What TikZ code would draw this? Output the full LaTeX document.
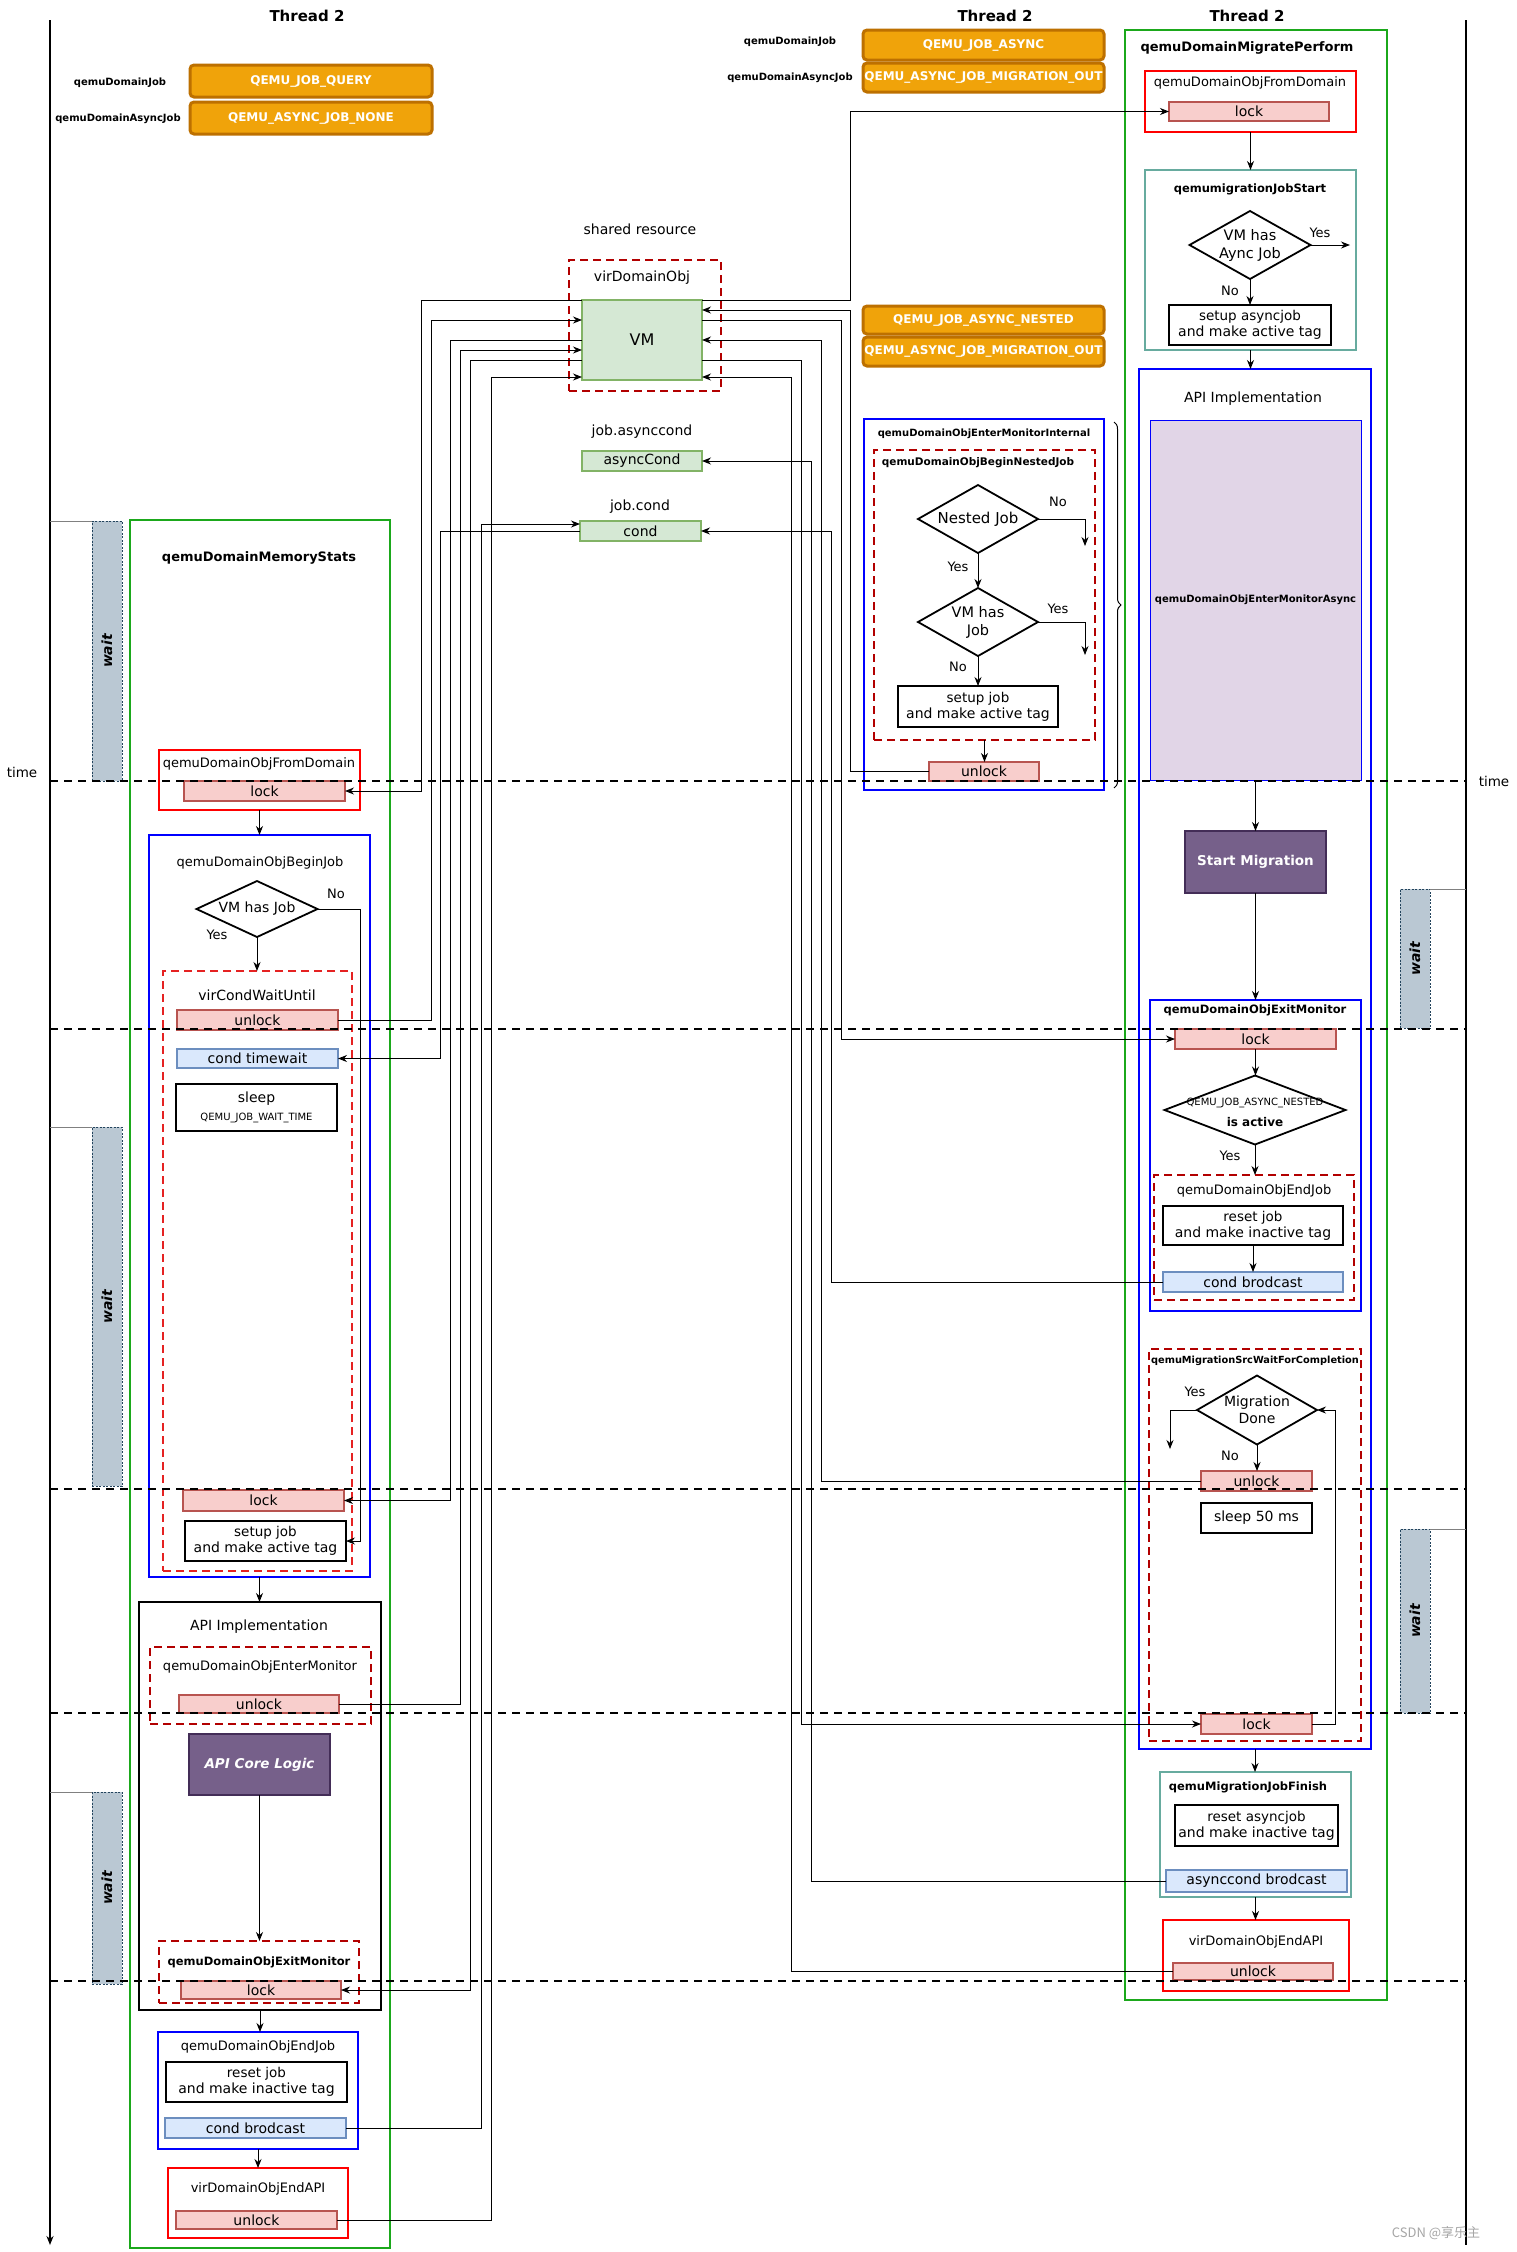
\documentclass[tikz,border=0pt]{standalone}
\usepackage{fontspec}
\setmainfont{DejaVu Sans}
\newfontfamily\cjkfont{Noto Sans CJK SC}
\usetikzlibrary{arrows.meta,shapes.geometric,decorations.pathreplacing}
\definecolor{cgreen}{HTML}{1BA81B}
\definecolor{cred}{HTML}{FF0000}
\definecolor{cblue}{HTML}{0000FF}
\definecolor{cdred}{HTML}{B20000}
\definecolor{cbred}{HTML}{E52222}
\definecolor{cteal}{HTML}{67AB9F}
\definecolor{lockf}{HTML}{F8CECC}
\definecolor{lockd}{HTML}{B85450}
\definecolor{condf}{HTML}{DAE8FC}
\definecolor{condd}{HTML}{6C8EBF}
\definecolor{vmf}{HTML}{D5E8D4}
\definecolor{vmd}{HTML}{82B366}
\definecolor{purf}{HTML}{76608A}
\definecolor{purd}{HTML}{432D57}
\definecolor{lavf}{HTML}{E1D5E7}
\definecolor{waitf}{HTML}{BAC8D3}
\definecolor{waitd}{HTML}{23445D}
\definecolor{orf}{HTML}{F0A30A}
\definecolor{ord}{HTML}{BD7000}
\newcommand{\fs}[2]{\fontsize{#1}{#2}\selectfont}
\newcommand{\BX}[7]{\node[#1, minimum width={(#5)-(#3)}, minimum height={(#6)-(#4)}] (#2) at ({((#3)+(#5))/2},{((#4)+(#6))/2}) {#7};}
\begin{document}
\begin{tikzpicture}[
  x=1pt, y=-1pt,
  >={Stealth[length=9pt,width=7pt]},
  every node/.style={inner sep=0pt, outer sep=0pt, align=center, font=\fs{14}{16}},
  box/.style={draw, line width=2pt, rectangle},
  greenbox/.style={box, draw=cgreen},
  redbox/.style={box, draw=cred},
  bluebox/.style={box, draw=cblue},
  reddash/.style={box, draw=cdred, dash pattern=on 8pt off 5pt},
  breddash/.style={box, draw=cbred, dash pattern=on 8pt off 5pt},
  tealbox/.style={box, draw=cteal},
  blkbox/.style={box, draw=black},
  lockbox/.style={draw=lockd, fill=lockf, line width=1.5pt},
  condbox/.style={draw=condd, fill=condf, line width=1.5pt},
  vmbox/.style={draw=vmd, fill=vmf, line width=1.5pt},
  purbox/.style={draw=purd, fill=purf, line width=1.5pt, text=white, font=\bfseries\fs{13.5}{16}},
  lavbox/.style={draw=cblue, fill=lavf, line width=0.8pt},
  orbox/.style={draw=ord, fill=orf, line width=3pt, rounded corners=4pt, text=white, font=\bfseries\fs{12}{14}},
  waitbox/.style={draw=waitd, fill=waitf, line width=0.8pt, dash pattern=on 2pt off 1.5pt},
  diam/.style={draw, diamond, line width=1.8pt},
  ttl/.style={font=\fs{13}{15}},
  btl/.style={font=\bfseries\fs{11.5}{13}},
  yn/.style={font=\fs{13}{15}},
  conn/.style={line width=1pt},
  arr/.style={conn, ->},
  rarr/.style={conn, <-},
  tline/.style={draw=black, line width=2pt, dash pattern=on 8pt off 6pt},
  wline/.style={draw=gray, line width=1pt},
  hdr/.style={font=\bfseries\fs{15}{17}},
  jlab/.style={font=\bfseries\fs{10}{12}}
]
\fill[white] (0,0) rectangle (1516,2252);
\useasboundingbox (0,0) rectangle (1516,2252);

% ---------- axes and time ----------
\coordinate (axLt) at (50,20);
\coordinate (axLb) at (50,2245);
\coordinate (axRt) at (1466,20);
\coordinate (axRb) at (1466,2245);
\draw[line width=1.5pt,->] (axLt) -- (axLb);
\draw[line width=1.5pt] (axRt) -- (axRb);
\node[font=\fs{13.5}{15}] (timeL) at (22,772) {time};
\node[font=\fs{13.5}{15}] (timeR) at (1494,781) {time};

% wait boxes
\BX{waitbox}{w1}{92}{521}{122}{781}{\rotatebox{90}{\bfseries\itshape wait}}
\BX{waitbox}{w2}{92}{1127}{122}{1486}{\rotatebox{90}{\bfseries\itshape wait}}
\BX{waitbox}{w3}{92}{1792}{122}{1984}{\rotatebox{90}{\bfseries\itshape wait}}
\BX{waitbox}{w4}{1400}{889}{1430}{1028}{\rotatebox{90}{\bfseries\itshape wait}}
\BX{waitbox}{w5}{1400}{1529}{1430}{1713}{\rotatebox{90}{\bfseries\itshape wait}}
\draw[wline] (axLt |- w1.north) -- (w1.north west);
\draw[wline] (axLt |- w2.north) -- (w2.north west);
\draw[wline] (axLt |- w3.north) -- (w3.north west);
\draw[wline] (w4.north east) -- (axRt |- w4.north);
\draw[wline] (w5.north east) -- (axRt |- w5.north);

% ---------- headers ----------
\node[hdr] (th1) at (307,16) {Thread 2};
\node[hdr] (th2) at (995,16) {Thread 2};
\node[hdr] (th3) at (1247,16) {Thread 2};
\node[jlab] (jl1) at (120,83) {qemuDomainJob};
\node[jlab] (jl2) at (118,119) {qemuDomainAsyncJob};
\node[jlab] (jl3) at (790,42) {qemuDomainJob};
\node[jlab] (jl4) at (790,78) {qemuDomainAsyncJob};
\BX{orbox}{o1}{190}{65}{432}{97}{QEMU\_JOB\_QUERY}
\BX{orbox}{o2}{190}{102}{432}{134}{QEMU\_ASYNC\_JOB\_NONE}
\BX{orbox}{o3}{863}{30}{1104}{60}{QEMU\_JOB\_ASYNC}
\BX{orbox}{o4}{863}{63}{1104}{92}{QEMU\_ASYNC\_JOB\_MIGRATION\_OUT}
\BX{orbox}{o5}{863}{306}{1104}{334}{QEMU\_JOB\_ASYNC\_NESTED}
\BX{orbox}{o6}{863}{337}{1104}{366}{QEMU\_ASYNC\_JOB\_MIGRATION\_OUT}

% ---------- shared resource ----------
\node (shr) at (640,229) {shared resource};
\BX{reddash}{vdo}{569}{260}{721}{391}{}
\node (vdot) at (642,278) {virDomainObj};
\BX{vmbox}{vm}{582}{300}{702}{380}{\fs{16}{18}VM}
\node (jac) at (642,432) {job.asynccond};
\BX{vmbox}{acond}{582}{451}{702}{471}{asyncCond}
\node (jc) at (640,507) {job.cond};
\BX{vmbox}{cond}{580}{521}{701}{541}{cond}

% ---------- left column: qemuDomainMemoryStats ----------
\BX{greenbox}{ms}{130}{520}{390}{2248}{}
\node[font=\bfseries\fs{13}{15}] (mst) at (259,558) {qemuDomainMemoryStats};
\BX{redbox}{fd1}{159}{750}{360}{810}{}
\node[ttl] (fd1t) at (259,764) {qemuDomainObjFromDomain};
\BX{lockbox}{lk1}{184}{781}{345}{801}{lock}
\BX{bluebox}{bj}{149}{835}{370}{1577}{}
\node[ttl] (bjt) at (260,863) {qemuDomainObjBeginJob};
\node[diam, minimum width=121, minimum height=56] (dj1) at (257,909) {};
\node (dj1t) at (dj1) {VM has Job};
\node[yn] (dj1no) at (336,894) {No};
\node[yn] (dj1yes) at (217,935) {Yes};
\BX{breddash}{cw}{163}{971}{352}{1571}{}
\node (cwt) at (257,995) {virCondWaitUntil};
\BX{lockbox}{ul1}{177}{1010}{338}{1030}{unlock}
\BX{condbox}{ctw}{177}{1049}{338}{1068}{cond timewait}
\BX{blkbox}{slp}{176}{1084}{337}{1131}{sleep\\[2pt]{\fs{10}{11}QEMU\_JOB\_WAIT\_TIME}}
\BX{lockbox}{lk2}{183}{1490}{344}{1511}{lock}
\BX{blkbox}{sj1}{185}{1521}{346}{1561}{\fs{13.5}{15}setup job\\and make active tag}
\BX{blkbox}{api1}{139}{1602}{381}{2010}{}
\node (api1t) at (259,1627) {API Implementation};
\BX{reddash}{em1}{150}{1647}{371}{1724}{}
\node[ttl] (em1t) at (260,1667) {qemuDomainObjEnterMonitor};
\BX{lockbox}{ul2}{179}{1695}{339}{1713}{unlock}
\BX{purbox}{core}{189}{1734}{330}{1795}{\itshape API Core Logic}
\BX{reddash}{xm1}{159}{1941}{359}{2003}{}
\node[btl] (xm1t) at (259,1962) {qemuDomainObjExitMonitor};
\BX{lockbox}{lk3}{181}{1981}{341}{1999}{lock}
\BX{bluebox}{ej1}{158}{2032}{358}{2149}{}
\node[ttl] (ej1t) at (258,2047) {qemuDomainObjEndJob};
\BX{blkbox}{rj1}{166}{2062}{347}{2102}{\fs{13.5}{15}reset job\\and make inactive tag}
\BX{condbox}{cb1}{165}{2118}{346}{2138}{cond brodcast}
\BX{redbox}{ea1}{168}{2168}{348}{2238}{}
\node[ttl] (ea1t) at (258,2189) {virDomainObjEndAPI};
\BX{lockbox}{ul3}{176}{2211}{337}{2229}{unlock}

\draw[arr] (fd1.south) -- (fd1.south |- bj.north);
\draw[arr] (dj1.south) -- (dj1.south |- cw.north);
\draw[arr] (dj1.east) -| (360,1541) -- (sj1.east);
\draw[arr] (bj.south) -- (bj.south |- api1.north);
\draw[arr] (core.south) -- (core.south |- xm1.north);
\draw[arr] (api1.south) -- (api1.south |- ej1.north);
\draw[arr] (ej1.south) -- (ej1.south |- ea1.north);

% ---------- middle: nested monitor ----------
\BX{bluebox}{emi}{864}{419}{1104}{790}{}
\node[font=\bfseries\fs{10}{12}] (emit) at (984,434) {qemuDomainObjEnterMonitorInternal};
\BX{reddash}{bnj}{874}{450}{1095}{740}{}
\node[font=\bfseries\fs{10.5}{12}] (bnjt) at (978,463) {qemuDomainObjBeginNestedJob};
\node[diam, minimum width=120, minimum height=68] (dn1) at (978,519) {};
\node[font=\fs{15}{17}] (dn1t) at (dn1) {Nested Job};
\node[yn] (dn1no) at (1058,502) {No};
\coordinate (dn1end) at (1085,546);
\draw[arr] (dn1.east) -| (dn1end);
\node[yn] (dn1yes) at (958,567) {Yes};
\node[diam, minimum width=120, minimum height=68] (dn2) at (978,622) {};
\node[font=\fs{14.5}{18}] (dn2t) at (dn2) {VM has\\Job};
\draw[arr] (dn1.south) -- (dn2.north);
\node[yn] (dn2yes) at (1058,609) {Yes};
\coordinate (dn2end) at (1085,655);
\draw[arr] (dn2.east) -| (dn2end);
\node[yn] (dn2no) at (958,667) {No};
\BX{blkbox}{sj3}{898}{686}{1058}{727}{\fs{13.5}{15}setup job\\and make active tag}
\draw[arr] (dn2.south) -- (dn2.south |- sj3.north);
\BX{lockbox}{ul6}{929}{762}{1039}{781}{unlock}
\draw[arr] (bnj.south) -- (bnj.south |- ul6.north);
\draw[line width=1pt, decorate, decoration={brace, amplitude=7pt}] (1114,422) -- (1114,788);

% ---------- right column: qemuDomainMigratePerform ----------
\BX{greenbox}{mp}{1125}{30}{1387}{2000}{}
\node[font=\bfseries\fs{13}{15}] (mpt) at (1247,48) {qemuDomainMigratePerform};
\BX{redbox}{fd2}{1145}{71}{1356}{132}{}
\node[ttl] (fd2t) at (1250,83) {qemuDomainObjFromDomain};
\BX{lockbox}{lk4}{1169}{102}{1329}{121}{lock}
\BX{tealbox}{js}{1145}{170}{1356}{350}{}
\node[btl] (jst) at (1250,189) {qemumigrationJobStart};
\node[diam, minimum width=121, minimum height=68] (dj2) at (1250,245) {};
\node[font=\fs{14.5}{18}] (dj2t) at (dj2) {VM has\\Aync Job};
\node[yn] (dj2yes) at (1320,233) {Yes};
\coordinate (dj2end) at (1350,245);
\draw[arr] (dj2.east) -- (dj2end);
\node[yn] (dj2no) at (1230,291) {No};
\BX{blkbox}{sj2}{1169}{305}{1331}{345}{\fs{13.5}{15}setup asyncjob\\and make active tag}
\draw[arr] (dj2.south) -- (dj2.south |- sj2.north);
\draw[arr] (fd2.south) -- (fd2.south |- js.north);
\BX{bluebox}{ap2}{1139}{369}{1371}{1749}{}
\draw[arr] (js.south) -- (js.south |- ap2.north);
\node (ap2t) at (1253,399) {API Implementation};
\BX{lavbox}{ema}{1150}{420}{1361}{780}{\bfseries\fs{10}{12}qemuDomainObjEnterMonitorAsync}
\BX{purbox}{sm}{1185}{831}{1326}{893}{Start Migration}
\draw[arr] (ema.south) -- (ema.south |- sm.north);
\BX{bluebox}{xm2}{1150}{1000}{1361}{1311}{}
\draw[arr] (sm.south) -- (sm.south |- xm2.north);
\node[btl] (xm2t) at (1255,1010) {qemuDomainObjExitMonitor};
\BX{lockbox}{lk5}{1175}{1029}{1336}{1049}{lock}
\node[diam, minimum width=181, minimum height=69] (dj3) at (1255,1110) {};
\node[font=\fs{10}{11}] (dj3a) at (1255,1103) {QEMU\_JOB\_ASYNC\_NESTED};
\node[font=\bfseries\fs{12}{13}] (dj3b) at (1255,1122) {is active};
\draw[arr] (lk5.south) -- (lk5.south |- dj3.north);
\node[yn] (dj3yes) at (1230,1156) {Yes};
\BX{reddash}{ej2}{1154}{1175}{1354}{1300}{}
\draw[arr] (dj3.south) -- (dj3.south |- ej2.north);
\node[ttl] (ej2t) at (1254,1191) {qemuDomainObjEndJob};
\BX{blkbox}{rj2}{1163}{1206}{1343}{1245}{\fs{13.5}{15}reset job\\and make inactive tag}
\BX{condbox}{cb2}{1163}{1272}{1343}{1292}{cond brodcast}
\draw[arr] (rj2.south) -- (rj2.south |- cb2.north);
\BX{reddash}{wc}{1149}{1349}{1361}{1741}{}
\node[font=\bfseries\fs{9.8}{11}] (wct) at (1255,1361) {qemuMigrationSrcWaitForCompletion};
\node[diam, minimum width=120, minimum height=69] (dj4) at (1257,1410) {};
\node[font=\fs{14}{17}] (dj4t) at (dj4) {Migration\\Done};
\node[yn] (dj4yes) at (1195,1392) {Yes};
\coordinate (dj4end) at (1170,1449);
\draw[arr] (dj4.west) -| (dj4end);
\node[yn] (dj4no) at (1230,1456) {No};
\BX{lockbox}{ul4}{1201}{1471}{1312}{1491}{unlock}
\draw[arr] (dj4.south) -- (dj4.south |- ul4.north);
\BX{blkbox}{s50}{1201}{1503}{1312}{1533}{sleep 50 ms}
\BX{lockbox}{lk6}{1201}{1714}{1312}{1734}{lock}
\draw[arr] (lk6.east) -| (1335,1410) -- (dj4.east);
\BX{tealbox}{jf}{1160}{1772}{1351}{1897}{}
\draw[arr] (ap2.south) -- (ap2.south |- jf.north);
\node[btl] (jft) at (1248,1787) {qemuMigrationJobFinish};
\BX{blkbox}{raj}{1175}{1805}{1338}{1846}{\fs{13.5}{15}reset asyncjob\\and make inactive tag}
\BX{condbox}{acb}{1166}{1870}{1347}{1892}{asynccond brodcast}
\BX{redbox}{ea2}{1163}{1920}{1349}{1991}{}
\draw[arr] (jf.south) -- (jf.south |- ea2.north);
\node[ttl] (ea2t) at (1256,1942) {virDomainObjEndAPI};
\BX{lockbox}{ul5}{1173}{1963}{1333}{1980}{unlock}

% ---------- timeline dashed lines ----------
\foreach \yy in {781,1029,1489,1713,1981}{
  \draw[tline] (axLt |- 0,\yy) -- (axRt |- 0,\yy);
}

% ---------- connectors to shared resource (left) ----------
\draw[arr] (vm.north west) -- (421,300) |- (lk1.east);
\draw[arr] (ul1.east) -| (431,320) -- (vm.west |- 431,320);
\draw[rarr] (ctw.east) -| (440,531) -- (cond.west |- 440,531);
\draw[rarr] (lk2.east) -| (450,340) -- (vm.west |- 450,340);
\draw[arr] (ul2.east) -| (460,350) -- (vm.west |- 460,350);
\draw[rarr] (lk3.east) -| (470,360) -- (vm.west |- 470,360);
\draw[arr] (cb1.east) -| (481,524) -- (cond.west |- 481,524);
\draw[arr] (ul3.east) -| (491,377) -- (vm.west |- 491,377);

% ---------- connectors to shared resource (right) ----------
\draw[arr] (vm.north east) -- (850,300) |- (lk4.west);
\draw[arr] (ul6.west) -| (850,310) -- (vm.east |- 850,310);
\draw[arr] (vm.east |- 841,320) -| (841,1039) -- (lk5.west);
\draw[arr] (cb2.west) -| (831,531) -- (cond.east |- 831,531);
\draw[arr] (ul4.west) -| (821,340) -- (vm.east |- 821,340);
\draw[arr] (acb.west) -| (811,461) -- (acond.east |- 811,461);
\draw[arr] (vm.east |- 801,360) -| (801,1724) -- (lk6.west);
\draw[arr] (ul5.west) -| (791,377) -- (vm.east |- 791,377);

\node[font=\cjkfont\fs{13}{15}, text=gray!70] (wm) at (1436,2233) {CSDN @享乐主};
\end{tikzpicture}
\end{document}
